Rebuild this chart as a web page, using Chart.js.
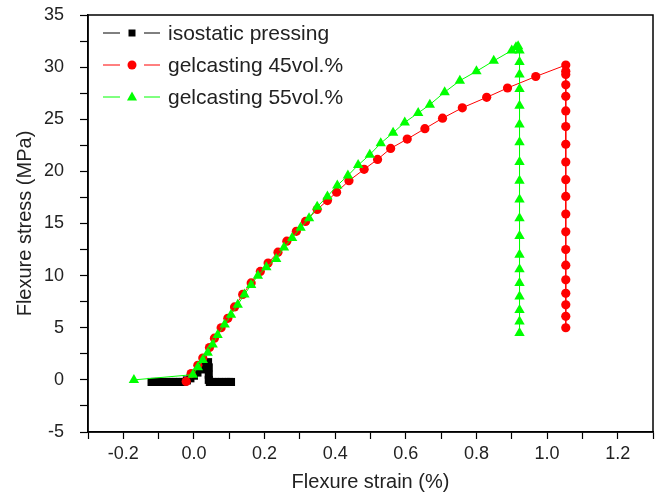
<!DOCTYPE html>
<html>
<head>
<meta charset="utf-8">
<script src="https://cdn.jsdelivr.net/npm/chart.js@4.4.1/dist/chart.umd.min.js"></script>
<style>
  body { margin: 0; background: #fff; }
  canvas { display: block; }
</style>
</head>
<body>
<canvas id="chartCanvas" width="660" height="498"></canvas>
<script>
// series names
var seriesNames = ['isostatic pressing', 'gelcasting 45vol.%', 'gelcasting 55vol.%'];

// isostatic pressing (strain %, stress MPa)
var isoStrain = [-0.12, -0.11, -0.10, -0.09, -0.08, -0.07, -0.06, -0.05, -0.04, -0.03,
  -0.02, -0.01, 0.00, 0.01, 0.02, 0.03, 0.04, 0.042, 0.042, 0.042, 0.045,
  0.05, 0.06, 0.07, 0.08, 0.09, 0.10, 0.105];
var isoStress = [-0.2, -0.2, -0.2, -0.2, -0.2, -0.2, -0.2, -0.2, -0.2, -0.2,
  -0.05, 0.15, 0.4, 0.7, 1.0, 1.35, 1.7, 1.2, 0.5, 0.0, -0.2,
  -0.2, -0.2, -0.2, -0.2, -0.2, -0.2, -0.2];

// gelcasting 45vol.%
var gel45Strain = [-0.022, -0.008, 0.011, 0.025, 0.044, 0.058, 0.077, 0.096, 0.115, 0.138,
  0.162, 0.188, 0.21, 0.238, 0.263, 0.29, 0.316, 0.349, 0.378, 0.404,
  0.439, 0.482, 0.52, 0.557, 0.604, 0.654, 0.704, 0.76, 0.829, 0.888,
  0.968, 1.053, 1.053, 1.053, 1.053, 1.053, 1.053, 1.053, 1.053, 1.053,
  1.053, 1.053, 1.053, 1.053, 1.053, 1.053, 1.053, 1.053, 1.053, 1.053, 1.053];
var gel45Stress = [-0.15, 0.6, 1.4, 2.1, 3.1, 4.0, 5.0, 5.9, 7.0, 8.2,
  9.3, 10.4, 11.2, 12.25, 13.3, 14.25, 15.2, 16.35, 17.2, 18.0,
  19.1, 20.2, 21.15, 22.2, 23.1, 24.1, 25.1, 26.1, 27.1, 28.0,
  29.1, 30.2, 29.6, 29.3, 28.3, 27.2, 25.8, 24.3, 22.6, 20.9,
  19.2, 17.6, 15.9, 14.2, 12.5, 11.0, 9.6, 8.3, 7.2, 6.1, 5.0];

// gelcasting 55vol.%
var gel55Strain = [-0.17, -0.003, 0.011, 0.025, 0.039, 0.053, 0.067, 0.087, 0.105, 0.124,
  0.143, 0.162, 0.181, 0.205, 0.233, 0.255, 0.278, 0.302, 0.326, 0.349,
  0.378, 0.406, 0.436, 0.465, 0.498, 0.529, 0.564, 0.597, 0.635, 0.668,
  0.71, 0.753, 0.80, 0.849, 0.90, 0.912, 0.918, 0.922, 0.922, 0.922,
  0.922, 0.922, 0.922, 0.922, 0.922, 0.922, 0.922, 0.922, 0.922, 0.922,
  0.922, 0.922, 0.922, 0.922, 0.922, 0.922];
var gel55Stress = [0.0, 0.5, 1.2, 1.9, 2.6, 3.4, 4.3, 5.3, 6.25, 7.2,
  8.2, 9.1, 10.0, 10.8, 11.6, 12.7, 13.6, 14.6, 15.5, 16.6,
  17.6, 18.65, 19.6, 20.6, 21.6, 22.7, 23.7, 24.7, 25.6, 26.4,
  27.6, 28.7, 29.6, 30.6, 31.6, 31.9, 32.0, 31.6, 30.5, 29.3,
  27.9, 26.3, 24.5, 22.8, 20.9, 19.1, 17.3, 15.5, 13.8, 12.0,
  10.6, 9.3, 8.0, 6.7, 5.6, 4.5];

// axis ranges / ticks
var xMin = -0.3, xMax = 1.3, xStep = 0.1;
var yMin = -5, yMax = 35, yStep = 2.5;

function pts(xs, ys) {
  return xs.map(function (x, i) { return { x: x, y: ys[i] }; });
}

var FONT = "'Liberation Sans', Arial, sans-serif";

// box around the plot
var framePlugin = {
  id: 'frame',
  afterDraw: function (chart) {
    var a = chart.chartArea, ctx = chart.ctx;
    ctx.save();
    ctx.strokeStyle = '#000';
    ctx.lineWidth = 1.5;
    ctx.strokeRect(a.left, a.top, a.right - a.left, a.bottom - a.top);
    ctx.restore();
  }
};

// legend drawn inside, origin style: line - marker - line
var legendPlugin = {
  id: 'innerLegend',
  afterDraw: function (chart) {
    var ctx = chart.ctx;
    ctx.save();
    chart.data.datasets.forEach(function (ds, i) {
      var y = 33 + i * 32;
      ctx.strokeStyle = ds.borderColor;
      ctx.lineWidth = 1;
      ctx.beginPath();
      ctx.moveTo(103, y); ctx.lineTo(120, y);
      ctx.moveTo(144, y); ctx.lineTo(160, y);
      ctx.stroke();
      ctx.fillStyle = ds.backgroundColor;
      ctx.beginPath();
      if (ds.pointStyle === 'rect') {
        ctx.rect(128.5, y - 3.5, 7, 7);
      } else if (ds.pointStyle === 'circle') {
        ctx.arc(132, y, 4.5, 0, Math.PI * 2);
      } else {
        ctx.moveTo(132, y - 5.5);
        ctx.lineTo(137, y + 3.5);
        ctx.lineTo(127, y + 3.5);
        ctx.closePath();
      }
      ctx.fill();
      ctx.fillStyle = '#222';
      ctx.font = '21px ' + FONT;
      ctx.textBaseline = 'middle';
      ctx.textAlign = 'left';
      ctx.fillText(ds.label, 168, y + 1);
    });
    ctx.restore();
  }
};

var ctx = document.getElementById('chartCanvas').getContext('2d');
var chart = new Chart(ctx, {
  type: 'scatter',
  data: {
    datasets: [{
      label: seriesNames[0],
      data: pts(isoStrain, isoStress),
      showLine: true,
      borderColor: '#000',
      backgroundColor: '#000',
      borderWidth: 1,
      pointStyle: 'rect',
      pointRadius: 5.7,
      pointBorderWidth: 0,
      order: 3
    }, {
      label: seriesNames[1],
      data: pts(gel45Strain, gel45Stress),
      showLine: true,
      borderColor: '#ff0000',
      backgroundColor: '#ff0000',
      borderWidth: 1,
      pointStyle: 'circle',
      pointRadius: 4.6,
      pointBorderWidth: 0,
      order: 2
    }, {
      label: seriesNames[2],
      data: pts(gel55Strain, gel55Stress),
      showLine: true,
      borderColor: '#00ff00',
      backgroundColor: '#00ff00',
      borderWidth: 1,
      pointStyle: 'triangle',
      pointRadius: 6,
      pointBorderWidth: 0,
      order: 1
    }]
  },
  options: {
    responsive: false,
    animation: false,
    layout: { padding: { left: 0, top: 15, right: 7, bottom: 0 } },
    plugins: {
      legend: { display: false },
      tooltip: { enabled: false }
    },
    scales: {
      x: {
        type: 'linear',
        min: xMin, max: xMax,
        afterFit: function (s) { s.height = 66; },
        ticks: {
          stepSize: xStep,
          autoSkip: false,
          maxRotation: 0,
          padding: 4,
          color: '#222',
          font: { family: FONT, size: 18 },
          callback: function (v) {
            return Math.abs(Math.round(v * 10)) % 2 === 0 ? v.toFixed(1) : '';
          }
        },
        grid: {
          drawOnChartArea: false,
          drawTicks: true,
          tickLength: 7,
          tickColor: '#000',
          tickWidth: 1.2
        },
        border: { display: true, color: '#000', width: 1.5 },
        title: {
          display: true,
          text: 'Flexure strain (%)',
          color: '#222',
          font: { family: FONT, size: 20 },
          padding: { top: 0, bottom: 4 }
        }
      },
      y: {
        type: 'linear',
        min: yMin, max: yMax,
        afterFit: function (s) {
          s.width = 88;
          s.paddingTop = 0;
          s.paddingBottom = 0;
        },
        ticks: {
          stepSize: yStep,
          autoSkip: false,
          padding: 16,
          color: '#222',
          font: { family: FONT, size: 18 },
          callback: function (v) {
            return v % 5 === 0 ? String(v) : '';
          }
        },
        grid: {
          drawOnChartArea: false,
          drawTicks: true,
          tickLength: 8,
          tickColor: '#000',
          tickWidth: 1.2
        },
        border: { display: true, color: '#000', width: 1.5 },
        title: {
          display: true,
          text: 'Flexure stress (MPa)',
          color: '#222',
          font: { family: FONT, size: 20 },
          padding: { top: 13, bottom: 0 }
        }
      }
    }
  },
  plugins: [framePlugin, legendPlugin]
});
</script>
</body>
</html>
